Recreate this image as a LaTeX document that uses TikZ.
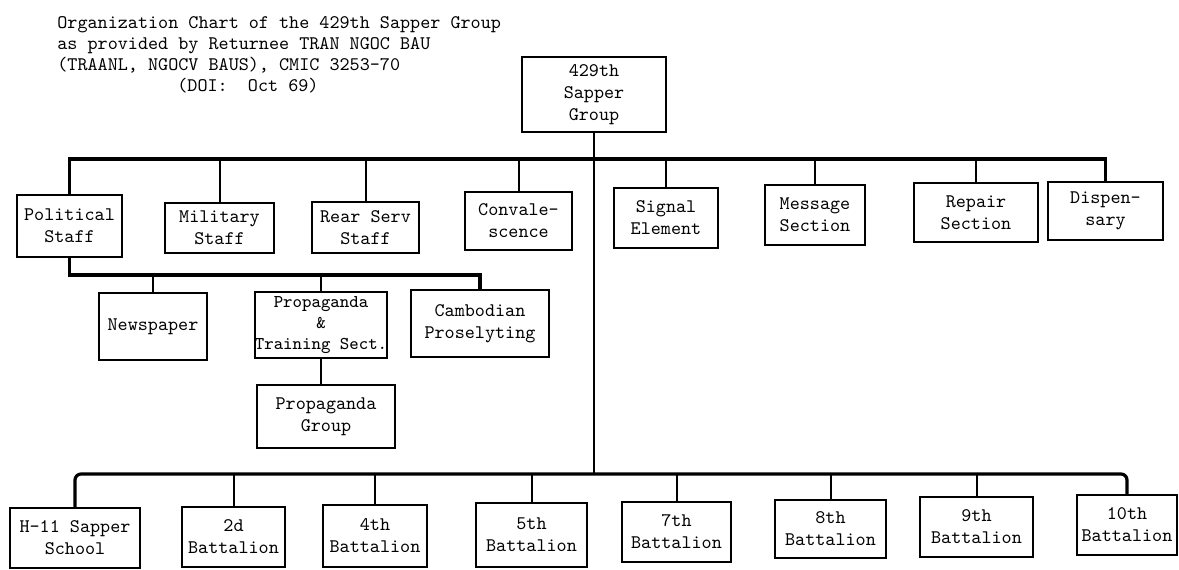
\documentclass[tikz,border=0pt]{standalone}
\usepackage{fontspec}
\tikzset{
  unit/.style={draw, rectangle, line width=1pt, align=center, inner sep=0pt,
    font=\ttfamily\fontsize{9.6}{11}\selectfont},
  bus/.style={line width=1.6pt},
  link/.style={line width=1pt},
}

\begin{document}
\begin{tikzpicture}[x=0.5pt, y=-0.5pt]
      \useasboundingbox (0,0) rectangle (1179,569);

      \node [anchor=north west,
        align=left,
        inner sep=0pt,
        font=\ttfamily\fontsize{9.6}{10.5}\selectfont,
      ] (title) at (57,16) {Organization Chart of the 429th Sapper Group\\
        as provided by Returnee TRAN NGOC BAU\\
        (TRAANL, NGOCV BAUS), CMIC 3253-70\\
        \hspace*{60pt}(DOI:~~Oct 69)};

      \node [unit,
        minimum width=72pt,
        minimum height=37.5pt,
      ] (grp) at (594,94.5) {429th\\Sapper\\Group};

      % staff and sections
      \node [unit, minimum width=52.5pt, minimum height=31pt] (pol) at (69.5,226) {Political\\Staff};
      \node [unit, minimum width=54.5pt, minimum height=25pt] (mil) at (219.5,228) {Military\\Staff};
      \node [unit, minimum width=53.5pt, minimum height=25.5pt] (rear) at (365.5,227.5) {Rear Serv\\Staff};
      \node [unit, minimum width=53.5pt, minimum height=29pt] (conv) at (518.5,221) {Convale-\\scence};
      \node [unit, minimum width=52pt, minimum height=30pt] (sig) at (666,218) {Signal\\Element};
      \node [unit, minimum width=50pt, minimum height=30pt] (msg) at (815,215) {Message\\Section};
      \node [unit, minimum width=62pt, minimum height=29.5pt] (rep) at (976,212.5) {Repair\\Section};
      \node [unit, minimum width=57.5pt, minimum height=29pt] (disp) at (1105.5,211) {Dispen-\\sary};

      % under the political staff
      \node [unit, minimum width=54pt, minimum height=33.5pt] (news) at (153,326.5) {Newspaper};
      \node [unit, minimum width=66pt, minimum height=33pt,
        font=\ttfamily\fontsize{9}{10.5}\selectfont] (prop) at (321,325) {Propaganda\\\&\\Training Sect.};
      \node [unit, minimum width=69pt, minimum height=33.5pt] (camb) at (480,323.5) {Cambodian\\Proselyting};
      \node [unit, minimum width=69pt, minimum height=31.5pt] (pgrp) at (326,416.5) {Propaganda\\Group};

      % units
      \node [unit, minimum width=65pt, minimum height=30pt] (h11) at (75,538) {H-11 Sapper\\School};
      \node [unit, minimum width=51.5pt, minimum height=30pt] (b2) at (233.5,537) {2d\\Battalion};
      \node [unit, minimum width=52pt, minimum height=31pt] (b4) at (375,536) {4th\\Battalion};
      \node [unit, minimum width=55.5pt, minimum height=32pt] (b5) at (531.5,535) {5th\\Battalion};
      \node [unit, minimum width=54.5pt, minimum height=30pt] (b7) at (676.5,532) {7th\\Battalion};
      \node [unit, minimum width=55.5pt, minimum height=29pt] (b8) at (830.5,529) {8th\\Battalion};
      \node [unit, minimum width=56.5pt, minimum height=30pt] (b9) at (976.5,527) {9th\\Battalion};
      \node [unit, minimum width=50pt, minimum height=30pt] (b10) at (1127,525) {10th\\Battalion};

      \coordinate (topbus) at (0,159);
      \coordinate (subbus) at (0,275);
      \coordinate (lowbus) at (0,474);

      \draw[line width=0.7pt] (grp.south) -- (grp.south |- lowbus);

      \draw[bus] (pol.north) |- (disp.north |- topbus) -- (disp.north);
      \foreach \n in {mil,rear,conv,sig,msg,rep}
        \draw[link] (\n.north |- topbus) -- (\n.north);

      \draw[bus] (pol.south) |- (camb.north |- subbus) -- (camb.north);
      \foreach \n in {news,prop}
        \draw[link] (\n.north |- subbus) -- (\n.north);
      \draw[link] (prop.south) -- (prop.south |- pgrp.north);

      \draw[bus, rounded corners=3pt] (h11.north) |- (b10.north |- lowbus) -- (b10.north);
      \foreach \n in {b2,b4,b5,b7,b8,b9}
        \draw[link] (\n.north |- lowbus) -- (\n.north);
\end{tikzpicture}
\end{document}
